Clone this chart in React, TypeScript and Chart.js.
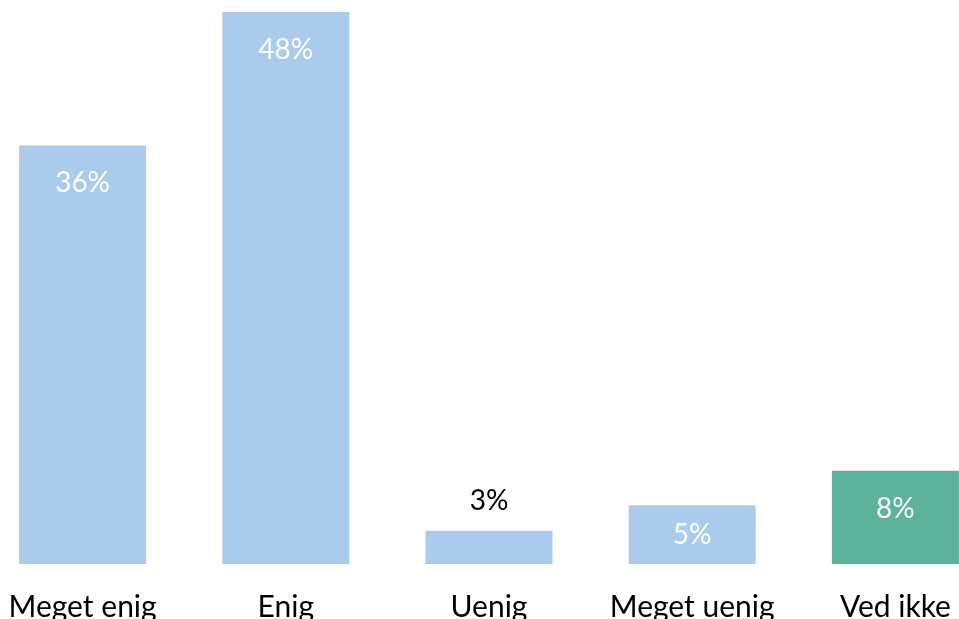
import React, { useEffect, useRef } from "react";
import { Chart, registerables } from "chart.js";

Chart.register(...registerables);

const categories = ["Meget enig", "Enig", "Uenig", "Meget uenig", "Ved ikke"];
const values = [36.4, 48, 2.9, 5.1, 8.1];
const barColors = ["#aacbec", "#aacbec", "#aacbec", "#aacbec", "#5cb29b"];

const FONT = "Lato, 'Open Sans', sans-serif";

const labelPlugin = {
  id: "barLabels",
  afterDatasetsDraw(chart: any) {
    const ctx = chart.ctx;
    const meta = chart.getDatasetMeta(0);
    ctx.save();
    ctx.font = `28px ${FONT}`;
    ctx.textAlign = "center";
    ctx.textBaseline = "middle";
    meta.data.forEach((bar: any, i: number) => {
      const v = values[i];
      const text = `${Math.round(v)}%`;
      const top = bar.y;
      const bottom = bar.base;
      const h = bottom - top;
      if (h < 45) {
        ctx.fillStyle = "#000000";
        ctx.fillText(text, bar.x, top - 30);
      } else {
        ctx.fillStyle = "#ffffff";
        ctx.fillText(text, bar.x, Math.min(top + 38, (top + bottom) / 2));
      }
    });
    ctx.restore();
  },
};

export default function App() {
  const ref = useRef<HTMLCanvasElement | null>(null);
  useEffect(() => {
    if (!ref.current) return;
    const chart = new Chart(ref.current, {
      type: "bar",
      data: {
        labels: categories,
        datasets: [
          {
            data: values,
            backgroundColor: barColors,
            borderWidth: 0,
            categoryPercentage: 1,
            barPercentage: 0.625,
          },
        ],
      },
      options: {
        animation: false,
        responsive: false,
        maintainAspectRatio: false,
        layout: { padding: { top: 12, left: 0, right: 0, bottom: 0 } },
        plugins: { legend: { display: false }, tooltip: { enabled: false } },
        scales: {
          x: {
            grid: { display: false, drawTicks: false },
            border: { display: false },
            ticks: {
              color: "#000000",
              font: { family: FONT, size: 30 },
              padding: 25,
              maxRotation: 0,
              autoSkip: false,
            },
          },
          y: {
            display: false,
            min: 0,
            max: 48,
          },
        },
      },
      plugins: [labelPlugin],
    });
    return () => chart.destroy();
  }, []);

  return (
    <div
      style={{
        position: "fixed",
        left: 0,
        top: 0,
        width: 959,
        height: 619,
        overflow: "hidden",
        background: "#ffffff",
      }}
    >
      <canvas
        ref={ref}
        width={1016}
        height={650}
        style={{ position: "absolute", left: -19, top: 0, width: 1016, height: 650 }}
      />
    </div>
  );
}
